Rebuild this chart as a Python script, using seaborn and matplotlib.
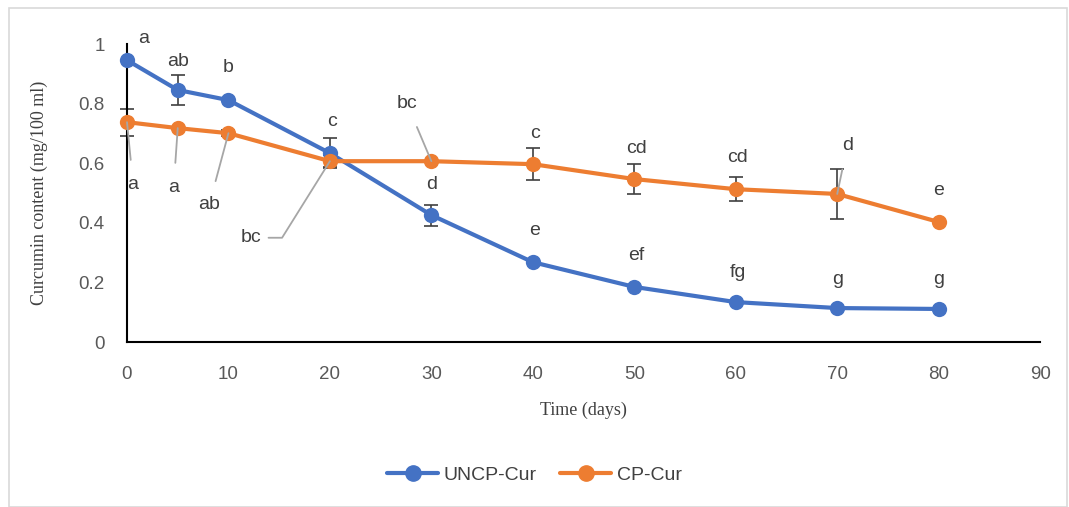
import pandas as pd
import numpy as np
import matplotlib
matplotlib.use("Agg")
import matplotlib.pyplot as plt
import seaborn as sns

# values
days = [0, 5, 10, 20, 30, 40, 50, 60, 70, 80]
uncp = [0.946, 0.846, 0.812, 0.634, 0.426, 0.268, 0.185, 0.134, 0.114, 0.111]
cp = [0.738, 0.718, 0.701, 0.607, 0.607, 0.597, 0.547, 0.513, 0.497, 0.403]
uncp_err = [0, 0.05, 0, 0.05, 0.035, 0, 0, 0, 0, 0]
cp_err = [0.045, 0, 0.01, 0.02, 0, 0.054, 0.05, 0.04, 0.083, 0]
uncp_letters = ["a", "ab", "b", "c", "d", "e", "ef", "fg", "g", "g"]
cp_letters = ["a", "a", "ab", "bc", "bc", "c", "cd", "cd", "d", "e"]

# label positions (days, content) for letters, and whether a leader line is used
uncp_lab_pos = [(1.6, 1.02), (5.0, 0.94), (10.0, 0.92), (20.2, 0.74), (30.0, 0.53),
                (40.2, 0.375), (50.2, 0.29), (60.2, 0.235), (70.0, 0.21), (80.0, 0.21)]
cp_lab_pos = [(0.6, 0.53), (4.6, 0.52), (8.1, 0.46), (12.2, 0.35), (27.6, 0.80),
              (40.2, 0.70), (50.2, 0.65), (60.2, 0.62), (71.0, 0.66), (80.0, 0.51)]
cp_leader = [None, None, None, "elbow", None, False, False, False, None, False]

df = pd.DataFrame({
    "day": days * 2,
    "content": uncp + cp,
    "series": ["UNCP-Cur"] * len(days) + ["CP-Cur"] * len(days),
})

blue = "#4472C4"
orange = "#ED7D31"
tick_col = "#595959"
txt_col = "#404040"

sns.set_style("white")
plt.rcParams["font.family"] = ["Liberation Sans", "DejaVu Sans"]

fig = plt.figure(figsize=(10.69, 5.07), dpi=100)
ax = fig.add_axes([0.1188, 0.3254, 0.8542, 0.5876])

sns.lineplot(data=df, x="day", y="content", hue="series", palette=[blue, orange],
             marker="o", markersize=11, markeredgewidth=0, linewidth=3,
             ax=ax, legend=False, zorder=3, clip_on=False)

# error bars sit behind the markers
for vals, errs in [(uncp, uncp_err), (cp, cp_err)]:
    xs = [d for d, e in zip(days, errs) if e > 0]
    ys = [v for v, e in zip(vals, errs) if e > 0]
    es = [e for e in errs if e > 0]
    ax.errorbar(xs, ys, yerr=es, fmt="none", ecolor=txt_col,
                elinewidth=1.2, capsize=5, capthick=1.2, zorder=2.5, clip_on=False)

for d, v, lab, pos in zip(days, uncp, uncp_letters, uncp_lab_pos):
    ax.text(pos[0], pos[1], lab, ha="center", va="center", fontsize=14, color=txt_col)

for i, (d, v, lab, pos) in enumerate(zip(days, cp, cp_letters, cp_lab_pos)):
    kind = cp_leader[i]
    if kind is False:
        ax.text(pos[0], pos[1], lab, ha="center", va="center", fontsize=14, color=txt_col)
        continue
    conn = "angle,angleA=0,angleB=58,rad=0" if kind == "elbow" else "arc3"
    ax.annotate(lab, xy=(d, v), xytext=pos, ha="center", va="center",
                fontsize=14, color=txt_col,
                arrowprops=dict(arrowstyle="-", color="#A6A6A6", lw=1.3,
                                shrinkA=9 if kind is None else 3, shrinkB=0,
                                connectionstyle=conn))

ax.set_xlim(0, 90)
ax.set_ylim(0, 1)
ax.set_xticks(range(0, 91, 10))
ax.set_yticks([0, 0.2, 0.4, 0.6, 0.8, 1])
ax.set_yticklabels(["0", "0.2", "0.4", "0.6", "0.8", "1"])
ax.tick_params(axis="both", length=0, labelsize=13.5, labelcolor=tick_col)
ax.tick_params(axis="x", pad=17)
ax.tick_params(axis="y", pad=16)

for s in ["top", "right"]:
    ax.spines[s].set_visible(False)
for s in ["left", "bottom"]:
    ax.spines[s].set_color("black")
    ax.spines[s].set_linewidth(1.5)

ax.set_xlabel("Time (days)", fontsize=13, family="Liberation Serif", color=txt_col, labelpad=14)
ax.set_ylabel("Curcumin content (mg/100 ml)", fontsize=13, family="Liberation Serif",
              color=txt_col, labelpad=22)

handles = [plt.Line2D([], [], color=blue, marker="o", markersize=11, linewidth=3),
           plt.Line2D([], [], color=orange, marker="o", markersize=11, linewidth=3)]
fig.legend(handles, ["UNCP-Cur", "CP-Cur"], loc="center", bbox_to_anchor=(0.5, 0.063),
           ncol=2, frameon=False, fontsize=14, handlelength=2.6, columnspacing=1.2,
           handletextpad=0.3, labelcolor=txt_col)

# outer chart border
fig.patches.append(plt.Rectangle((0.008, 0.0), 0.99, 0.985, transform=fig.transFigure,
                                 fill=False, edgecolor="#D9D9D9", linewidth=1.2))

fig.savefig("out.png", dpi=100)
